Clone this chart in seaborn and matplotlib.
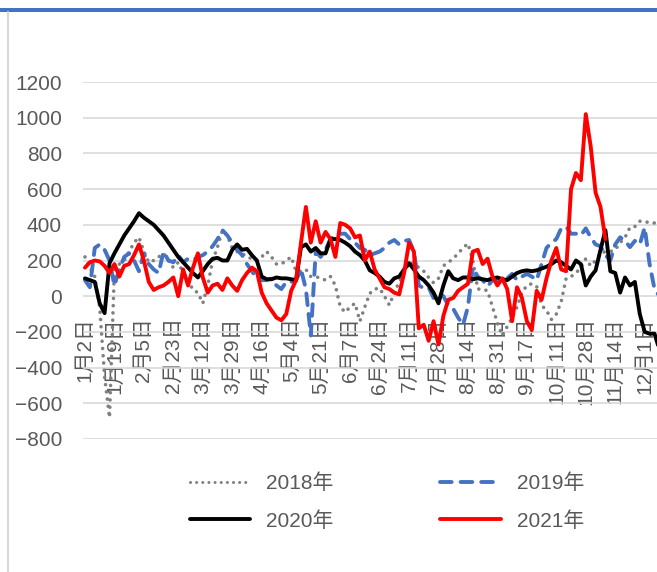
import numpy as np
import pandas as pd
import matplotlib
matplotlib.use("Agg")
import matplotlib.pyplot as plt
from matplotlib.patches import Rectangle
from matplotlib.lines import Line2D
import seaborn as sns

# -------------------------------
# data (one sample every ~3 trading days)
# -------------------------------
date_labels = ["1月2日", "1月19日", "2月5日", "2月23日", "3月12日", "3月29日",
               "4月16日", "5月4日", "5月21日", "6月7日", "6月24日", "7月11日",
               "7月28日", "8月14日", "8月31日", "9月17日", "10月11日", "10月28日",
               "11月14日", "12月1日"]
years = ["2018年", "2019年", "2020年", "2021年"]

v2018 = [220, 160, 110, -60, -450, -680, 150, 180, 200, 250,
         300, 330, 250, 190, 200, 220, 240, 200, 160, 190,
         130, 90, 35, 20, -40, 60, 200, 275, 370, 340,
         270, 250, 240, 220, 210, 200, 220, 250, 220, 180,
         180, 200, 220, 140, 140, 150, 110, 110, 100, 90,
         110, 60, -60, -90, -60, -40, -140, -60, 15, 40,
         45, 0, -50, 20, 80, 140, 185, 185, 160, 140,
         105, 75, 100, 170, 190, 210, 240, 270, 295, 200,
         40, 40, 30, -60, -150, -220, -170, -120, -60, 20,
         60, 70, 55, -50, -80, -130, -100, -30, 100, 110,
         130, 160, 210, 170, 200, 240, 250, 250, 260, 300,
         330, 385, 390, 420, 420, 410, 410, 410]

v2019 = [90, 50, 270, 290, 260, 200, 60, 150, 220, 240,
         200, 140, 240, 180, 150, 130, 250, 200, 190, 230,
         190, 210, 200, 220, 230, 250, 280, 320, 370, 340,
         300, 260, 230, 180, 140, 100, 90, 90, 100, 60,
         40, 80, 80, 90, 150, 40, -220, 250, 220, 260,
         320, 340, 350, 350, 320, 300, 270, 260, 230, 240,
         250, 270, 300, 315, 290, 310, 315, 250, 60, 45,
         50, -10, 20, 0, -50, -70, -120, -160, -60, 160,
         110, 90, 55, 90, 90, 90, 100, 125, 90, 110,
         125, 110, 90, 180, 270, 300, 320, 380, 390, 350,
         350, 340, 380, 330, 290, 280, 230, 200, 290, 330,
         310, 275, 310, 290, 385, 180, 40, 0]

v2020 = [100, 90, 80, -40, -95, 185, 240, 290, 340, 380,
         420, 465, 440, 420, 400, 370, 340, 300, 260, 220,
         190, 160, 130, 105, 140, 180, 210, 215, 200, 200,
         260, 290, 260, 265, 230, 200, 110, 95, 95, 105,
         100, 100, 95, 90, 275, 290, 250, 270, 240, 240,
         320, 320, 315, 300, 280, 250, 230, 200, 145, 130,
         110, 80, 70, 100, 110, 150, 185, 150, 110, 90,
         60, 20, -40, 60, 140, 100, 90, 105, 105, 95,
         100, 95, 90, 100, 105, 95, 90, 110, 130, 140,
         145, 140, 145, 155, 165, 180, 200, 190, 170, 150,
         200, 180, 60, 110, 145, 260, 370, 140, 130, 20,
         105, 60, 80, -100, -200, -210, -210, -300]

v2021 = [160, 190, 200, 195, 170, 130, 180, 110, 170, 180,
         230, 290, 200, 80, 35, 50, 60, 80, 105, 0,
         150, 60, 160, 240, 105, 20, 60, 70, 35, 100,
         60, 30, 90, 130, 160, 140, 20, -40, -80, -120,
         -135, -100, 30, 90, 300, 500, 300, 420, 300, 360,
         320, 220, 410, 400, 380, 330, 340, 200, 250, 150,
         100, 50, 40, 20, 10, 130, 300, 250, -180, -160,
         -250, -140, -270, -110, -20, -10, 30, 50, 70, 250,
         260, 180, 210, 110, 60, 100, 40, -140, 50, -10,
         -140, -190, 30, -20, 100, 200, 270, 150, 140, 600,
         690, 650, 1020, 840, 580, 500, 320]

frames = []
for yr, vals in zip(years, [v2018, v2019, v2020, v2021]):
    frames.append(pd.DataFrame({"idx": np.arange(len(vals)), "value": vals, "year": yr}))
df = pd.concat(frames, ignore_index=True)

colors = {"2018年": "#808080", "2019年": "#4472C4", "2020年": "#000000", "2021年": "#FF0000"}
dashes = {"2018年": (0.01, 2.0), "2019年": (3, 2.3), "2020年": "", "2021年": ""}

# -------------------------------
# plot
# -------------------------------
sns.set_theme(style="white")
plt.rcParams["font.family"] = ["Liberation Sans", "Noto Sans CJK SC"]
text_color = "#595959"

fig = plt.figure(figsize=(6.57, 5.72), dpi=100)
# axes runs past the right edge, like the cropped original
ax = fig.add_axes([82.5 / 657, 133 / 572, 616.2 / 657, 357 / 572])

sns.lineplot(data=df, x="idx", y="value", hue="year", style="year",
             hue_order=years, style_order=years, palette=colors, dashes=dashes,
             linewidth=2.8, estimator=None, sort=False, ax=ax)

for ln in ax.lines:
    ln.set_dash_capstyle("round")
    ln.set_solid_capstyle("round")
    ln.set_solid_joinstyle("round")
ax.lines[0].set_linewidth(2.6)

# category axis crosses at 0 (set before ticks: this resets them)
for s in ["top", "right", "left"]:
    ax.spines[s].set_visible(False)
ax.spines["bottom"].set_position(("data", 0))
ax.spines["bottom"].set_color("none")

ax.set_xlim(-0.5, 125)
ax.set_ylim(-800, 1200)
ax.set_yticks(np.arange(-800, 1201, 200))
ax.set_xticks(np.arange(len(date_labels)) * 6)
ax.set_xticklabels(date_labels)
ax.set_xlabel("")
ax.set_ylabel("")

ax.grid(axis="y", color="#D9D9D9", linewidth=1.2)
ax.grid(axis="x", visible=False)
ax.set_axisbelow(True)

ax.tick_params(axis="y", length=0, pad=14.8, labelsize=15, labelcolor=text_color)
ax.tick_params(axis="x", length=0, pad=15.0, labelsize=15, labelcolor=text_color,
               labelrotation=90)

# legend below, two columns in row order
handles, labels = ax.get_legend_handles_labels()
ax.get_legend().remove()
lut = dict(zip(labels, handles))
for i, yr in enumerate(years):
    h = lut[yr]
    h.set_dash_capstyle("round")
    h.set_solid_capstyle("round")
    h.set_linewidth(2.2 if i == 0 else 2.8)
order = ["2018年", "2020年", "2019年", "2021年"]
fig.legend([lut[k] for k in order], order, ncol=2, loc="center",
           bbox_to_anchor=(0.589, 0.122), frameon=False, fontsize=15,
           labelcolor=text_color, handlelength=2.9, handletextpad=0.77,
           columnspacing=5.1, labelspacing=0.85)

# frame decorations of the original screenshot
fig.add_artist(Rectangle((0, 1 - 12 / 572), 1, 4 / 572, transform=fig.transFigure,
                         color="#4472C4", lw=0))
fig.add_artist(Line2D([8 / 657, 8 / 657], [0, 1 - 12 / 572], transform=fig.transFigure,
                      color="#D9D9D9", lw=1.5))

fig.savefig("out.png", dpi=100)
